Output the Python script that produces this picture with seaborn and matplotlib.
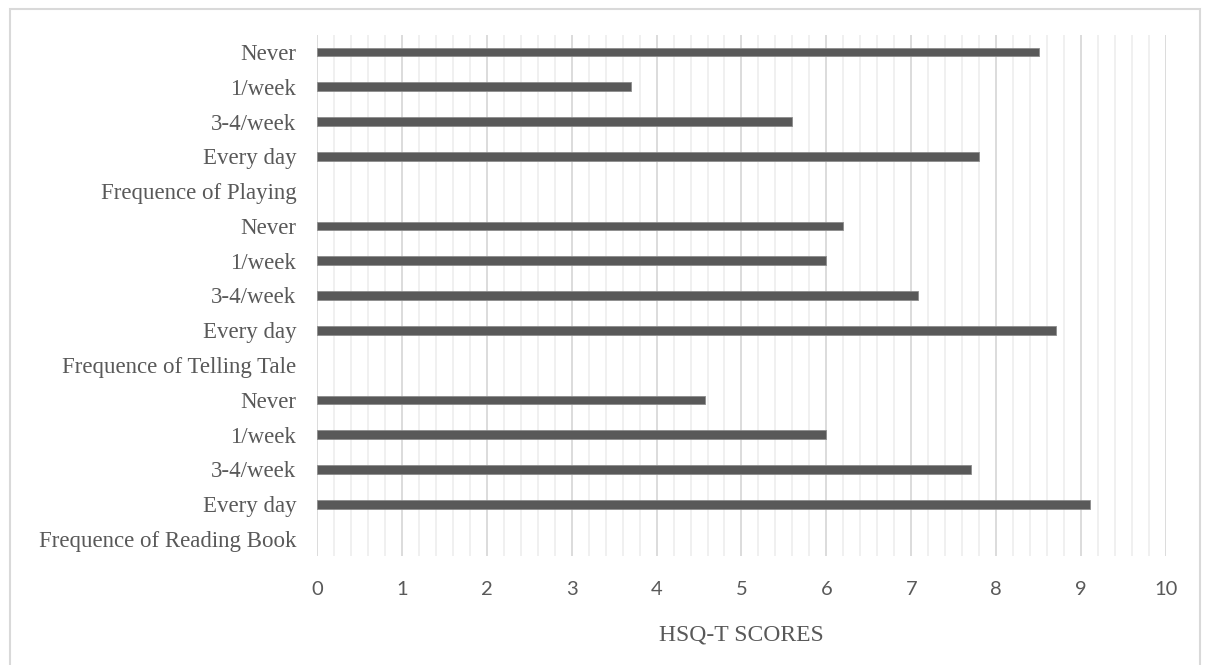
import numpy as np
import pandas as pd
import seaborn as sns
import matplotlib.pyplot as plt
from matplotlib.ticker import MultipleLocator
from matplotlib.patches import Rectangle

# rows from top to bottom, group header rows have no bar
labels = ['Never', '1/week', '3-4/week', 'Every day', 'Frequence of Playing',
          'Never', '1/week', '3-4/week', 'Every day', 'Frequence of Telling Tale',
          'Never', '1/week', '3-4/week', 'Every day', 'Frequence of Reading Book']
scores = [8.5, 3.7, 5.6, 7.8, np.nan,
          6.2, 6.0, 7.08, 8.7, np.nan,
          4.57, 6.0, 7.7, 9.1, np.nan]
x_ticks = [0, 1, 2, 3, 4, 5, 6, 7, 8, 9, 10]
x_label = 'HSQ-T SCORES'

sns.set_style('white')

df = pd.DataFrame({'row': [str(i) for i in range(len(labels))],
                   'label': labels, 'score': scores})
order = df['row'].tolist()

fig = plt.figure(figsize=(12.08, 6.65), dpi=100)
ax = fig.add_axes([0.2624, 0.1633, 0.7028, 0.7847])

sns.barplot(data=df.dropna(), x='score', y='row', order=order, orient='h',
            color='#595959', width=0.25, saturation=1,
            edgecolor='#8c8c8c', linewidth=0.6, ax=ax)

ax.set_xlim(0, 10)
ax.set_ylim(len(labels) - 0.5, -0.5)
ax.set_xticks(x_ticks)
ax.xaxis.set_minor_locator(MultipleLocator(0.2))
ax.grid(which='major', axis='x', color='#d9d9d9', lw=1.3)
ax.grid(which='minor', axis='x', color='#efefef', lw=1.3)
ax.grid(axis='y', visible=False)
ax.set_axisbelow(True)
for s in ax.spines.values():
    s.set_visible(False)

ax.set_yticks(range(len(labels)))
ax.set_yticklabels(labels, fontsize=16.5, color='#595959', family='Liberation Serif')
ax.set_xticklabels([str(t) for t in x_ticks], fontsize=14.5, color='#595959', family='Lato')
ax.tick_params(axis='y', length=0, pad=15)
ax.tick_params(axis='x', which='both', length=0, pad=18)
ax.set_ylabel('')
ax.set_xlabel(x_label, fontsize=17, color='#595959', family='Liberation Serif', labelpad=19)

# light frame around the whole chart
fig.patches.append(Rectangle((10 / 1208, -0.02), 1190 / 1208, 1 - 9 / 665 + 0.02,
                             transform=fig.transFigure, fill=False,
                             edgecolor='#d9d9d9', lw=1.5))

fig.savefig('out.png', dpi=100)
